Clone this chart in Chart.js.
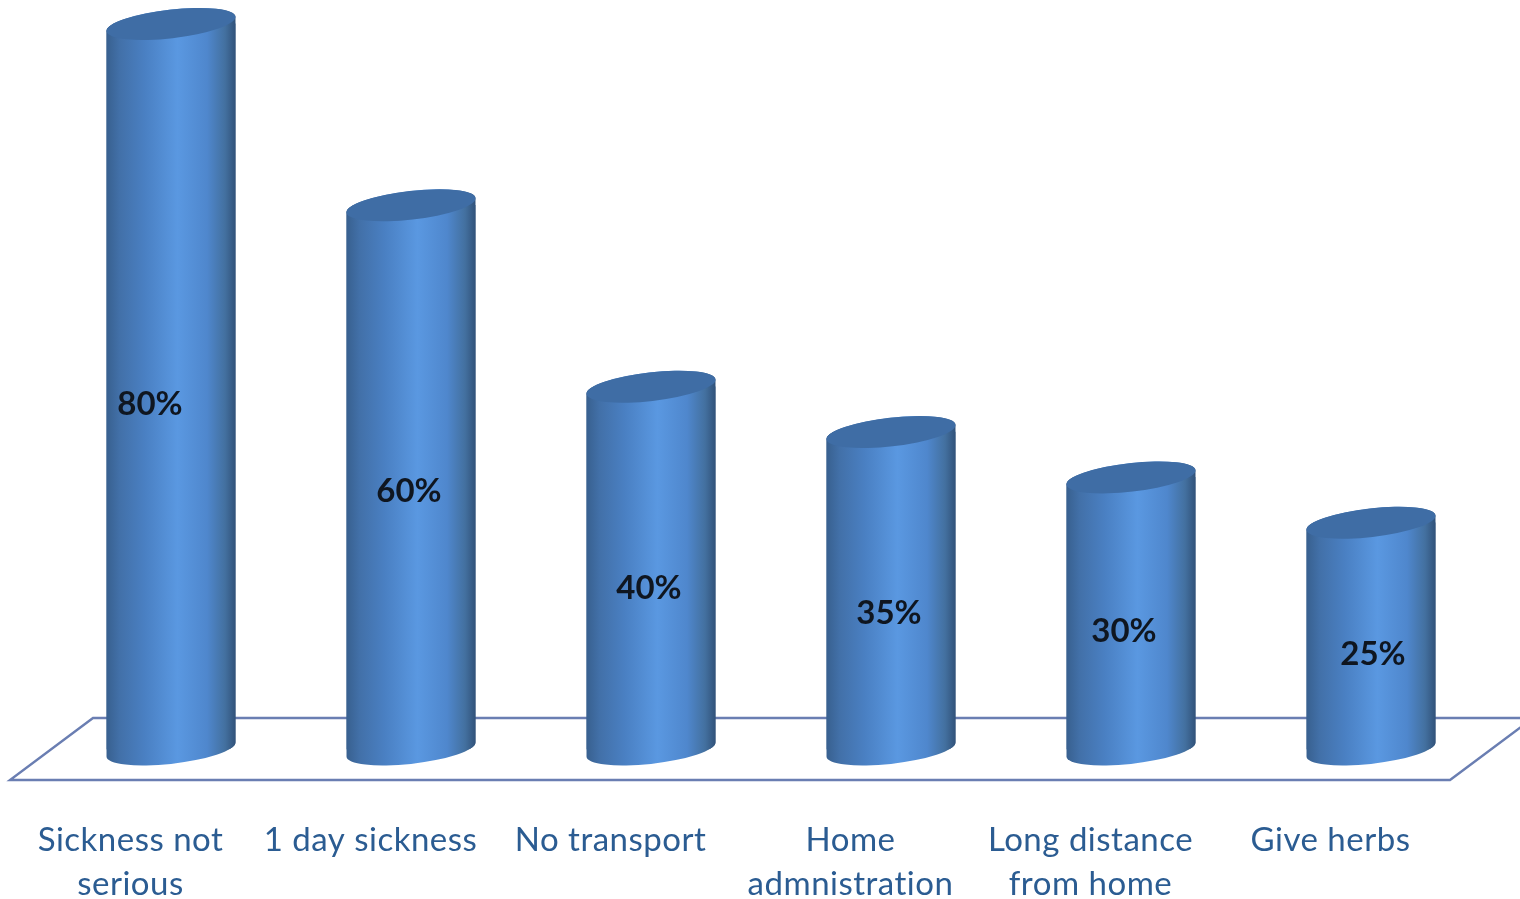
<!DOCTYPE html>
<html>
<head>
<meta charset="utf-8">
<style>
  html, body { margin: 0; padding: 0; background: #fff; overflow: hidden; }
  canvas { display: block; }
</style>
<script src="https://cdn.jsdelivr.net/npm/chart.js@4/dist/chart.umd.min.js"></script>
</head>
<body>
<canvas id="chart" width="1520" height="899"></canvas>
<script>
// Reasons for not seeking care, share of respondents (%)
const categories = [
  ['Sickness not', 'serious'],
  '1 day sickness',
  'No transport',
  ['Home', 'admnistration'],
  ['Long distance', 'from home'],
  'Give herbs'
];
const percentages = [80, 60, 40, 35, 30, 25];

// Hand-placed offsets of each value label from the middle of its column
const labelShiftX = [-21, -2, -2, -2, -7, 2];
const labelShiftY = [18, 14, 20, 23, 18, 18];

const BODY_STOPS = [
  [0, '#38608F'], [0.1, '#4270A8'], [0.3, '#4A80C3'], [0.55, '#5A98E1'],
  [0.78, '#4F87CD'], [0.92, '#43709F'], [1, '#31527A']
];
const CAP_COLOR = '#3F6DA5';
const FLOOR_COLOR = '#6A7EB2';
const TILT = 6.5 * Math.PI / 180;
const CAP_RY = 14.3;

function bodyGradient(ctx, left, right) {
  const g = ctx.createLinearGradient(left, 0, right, 0);
  BODY_STOPS.forEach(([at, color]) => g.addColorStop(at, color));
  return g;
}

// Outline of a cylinder whose elliptical ends are tilted up towards the right
function cylinderPath(ctx, bar) {
  const rx = bar.width / 2 * 1.006;
  const phi = -TILT;
  const t0 = Math.atan2(-CAP_RY * Math.sin(phi), rx * Math.cos(phi));
  ctx.moveTo(
    bar.x + rx * Math.cos(t0) * Math.cos(phi) - CAP_RY * Math.sin(t0) * Math.sin(phi),
    bar.y + rx * Math.cos(t0) * Math.sin(phi) + CAP_RY * Math.sin(t0) * Math.cos(phi)
  );
  ctx.ellipse(bar.x, bar.y, rx, CAP_RY, phi, t0, t0 - Math.PI, true);
  ctx.ellipse(bar.x, bar.base, rx, CAP_RY, phi, t0 + Math.PI, t0, true);
  ctx.closePath();
}

const cylinders = {
  id: 'cylinders',
  beforeDraw(chart) {
    // Slight tracking for the category labels, which also keeps "ti" unligated
    chart.ctx.letterSpacing = '0.5px';
  },
  beforeDatasetsDraw(chart) {
    // Floor plane behind the columns
    const { ctx, scales: { y }, chartArea: area } = chart;
    const y0 = y.getPixelForValue(0);
    const back = y0 - 31.5, front = y0 + 30.5;
    ctx.save();
    ctx.strokeStyle = FLOOR_COLOR;
    ctx.lineWidth = 2.4;
    ctx.lineJoin = 'miter';
    ctx.beginPath();
    ctx.moveTo(area.left + 42, back);
    ctx.lineTo(area.left - 41, front);
    ctx.lineTo(area.left + 1399, front);
    ctx.lineTo(area.left + 1482, back);
    ctx.closePath();
    ctx.stroke();
    ctx.restore();
  },
  beforeDatasetDraw(chart, args) {
    // Bars are confined to the cylinder outlines
    const { ctx } = chart;
    ctx.save();
    ctx.beginPath();
    args.meta.data.forEach(bar => cylinderPath(ctx, bar));
    ctx.clip();
  },
  afterDatasetDraw(chart, args) {
    const { ctx } = chart;
    ctx.restore();
    args.meta.data.forEach((bar, i) => {
      const left = bar.x - bar.width / 2, right = bar.x + bar.width / 2;
      ctx.save();
      ctx.fillStyle = bodyGradient(ctx, left, right);
      ctx.beginPath();
      cylinderPath(ctx, bar);
      ctx.fill();
      ctx.fillStyle = CAP_COLOR;
      ctx.beginPath();
      ctx.ellipse(bar.x, bar.y, bar.width / 2 * 1.006, CAP_RY, -TILT, 0, Math.PI * 2);
      ctx.fill();

      // Value label
      ctx.letterSpacing = '0px';
      ctx.fillStyle = '#0F1620';
      ctx.font = 'bold 33px Lato, sans-serif';
      ctx.textAlign = 'center';
      ctx.textBaseline = 'middle';
      ctx.fillText(
        percentages[i] + '%',
        bar.x + labelShiftX[i],
        (bar.y + bar.base) / 2 + labelShiftY[i]
      );
      ctx.restore();
    });
  }
};

new Chart(document.getElementById('chart'), {
  type: 'bar',
  data: {
    labels: categories,
    datasets: [{
      data: percentages,
      barThickness: 129,
      backgroundColor(c) {
        const cx = c.dataIndex === undefined ? NaN : c.chart.scales.x.getPixelForValue(c.dataIndex);
        if (!Number.isFinite(cx)) return BODY_STOPS[3][1];
        return bodyGradient(c.chart.ctx, cx - 64.5, cx + 64.5);
      }
    }]
  },
  options: {
    responsive: false,
    animation: false,
    devicePixelRatio: 1,
    layout: { padding: { left: 51, right: 29, top: 0, bottom: 0 } },
    plugins: { legend: { display: false }, tooltip: { enabled: false }, title: { display: false } },
    scales: {
      x: {
        grid: { display: false, drawTicks: false },
        border: { display: false },
        afterFit(scale) { scale.height = 149.5; },
        ticks: {
          autoSkip: false,
          maxRotation: 0,
          minRotation: 0,
          labelOffset: -40.5,
          padding: 69,
          color: '#2B5C92',
          font: { family: 'Lato, sans-serif', size: 33, lineHeight: 1.333 }
        }
      },
      y: { display: false, min: 0, max: 82.64 }
    }
  },
  plugins: [cylinders]
});
</script>
</body>
</html>
